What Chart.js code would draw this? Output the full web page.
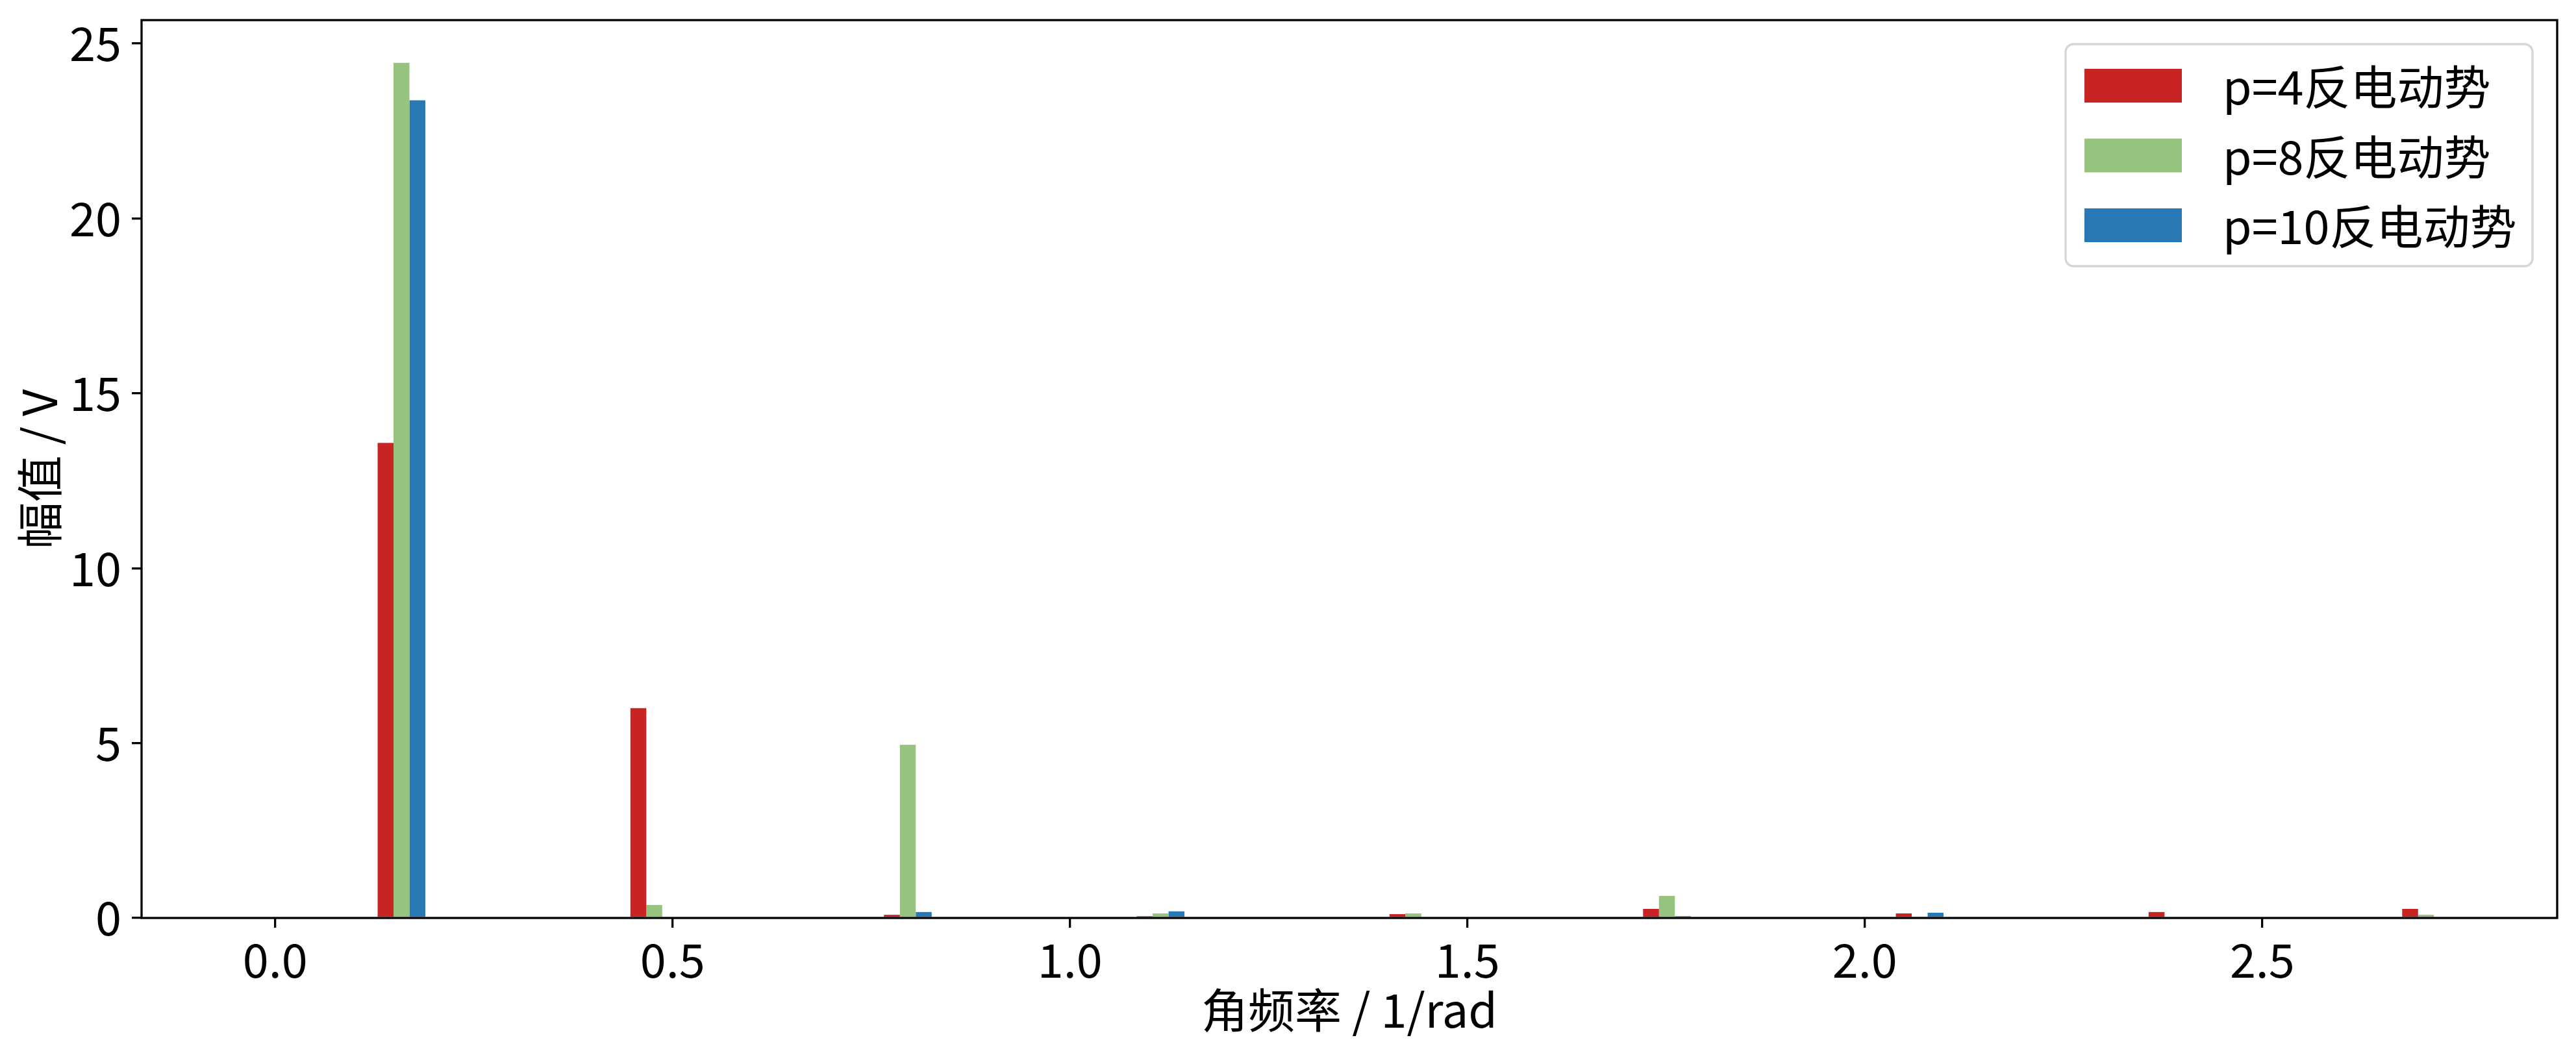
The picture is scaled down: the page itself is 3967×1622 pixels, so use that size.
<!DOCTYPE html>
<html>
<head>
<meta charset="utf-8">
<script src="https://cdn.jsdelivr.net/npm/chart.js@4/dist/chart.umd.min.js"></script>
<style>
html, body { margin: 0; padding: 0; background: #ffffff; }
#wrap { width: 3967px; height: 1622px; }
</style>
</head>
<body>
<div id="wrap"><canvas id="c" width="3967" height="1622"></canvas></div>
<script>
// ---- data ----
const freqs = [0.159, 0.477, 0.796, 1.114, 1.432, 1.751, 2.069, 2.387, 2.706];
const seriesNames = ['p=4反电动势', 'p=8反电动势', 'p=10反电动势'];
const p4Values  = [13.58, 6.00, 0.09, 0.05, 0.11, 0.26, 0.13, 0.17, 0.26];
const p8Values  = [24.45, 0.37, 4.95, 0.13, 0.13, 0.63, 0.04, 0.00, 0.09];
const p10Values = [23.38, 0.00, 0.17, 0.19, 0.00, 0.05, 0.15, 0.00, 0.00];
const xTicks = [0.0, 0.5, 1.0, 1.5, 2.0, 2.5];
const yTicks = [0, 5, 10, 15, 20, 25];
const xTitle = '角频率 / 1/rad';
const yTitle = '幅值 / V';

// ---- styling ----
const colors = ['#c82423', '#96c37d', '#2878b5'];
const FONT = '"Noto Sans CJK SC", "Noto Sans", sans-serif';
const FS = 72;
const barWidthUnits = 0.02;      // bar width in data units
const spacingUnits = freqs[1] - freqs[0];

const makeData = vals => freqs.map((f, i) => ({ x: f, y: vals[i] }));

const spinePlugin = {
  id: 'spines',
  afterDatasetsDraw(chart) {
    const { ctx, chartArea: a } = chart;
    ctx.save();
    ctx.strokeStyle = '#000';
    ctx.lineWidth = 3.3;
    ctx.strokeRect(a.left, a.top, a.right - a.left, a.bottom - a.top);
    ctx.restore();
  }
};

function roundRect(ctx, x, y, w, h, r) {
  ctx.beginPath();
  ctx.moveTo(x + r, y);
  ctx.lineTo(x + w - r, y);
  ctx.arcTo(x + w, y, x + w, y + r, r);
  ctx.lineTo(x + w, y + h - r);
  ctx.arcTo(x + w, y + h, x + w - r, y + h, r);
  ctx.lineTo(x + r, y + h);
  ctx.arcTo(x, y + h, x, y + h - r, r);
  ctx.lineTo(x, y + r);
  ctx.arcTo(x, y, x + r, y, r);
  ctx.closePath();
}

const legendPlugin = {
  id: 'mplLegend',
  afterDraw(chart) {
    const { ctx, chartArea: a } = chart;
    const w = 719, h = 342;
    const bx = a.right - 38 - w, by = a.top + 37;
    ctx.save();
    roundRect(ctx, bx, by, w, h, 12);
    ctx.fillStyle = 'rgba(255,255,255,0.8)';
    ctx.fill();
    ctx.strokeStyle = '#d6d6d6';
    ctx.lineWidth = 3.3;
    ctx.stroke();
    ctx.font = FS + 'px ' + FONT;
    ctx.textBaseline = 'middle';
    ctx.textAlign = 'left';
    chart.data.datasets.forEach((ds, i) => {
      const sy = by + 38 + i * 107.5;
      ctx.fillStyle = ds.backgroundColor;
      ctx.fillRect(bx + 29, sy, 150, 52);
      ctx.fillStyle = '#000';
      ctx.fillText(ds.label, bx + 242, sy + 26 + 2);
    });
    ctx.restore();
  }
};

new Chart(document.getElementById('c'), {
  type: 'bar',
  data: {
    datasets: [
      { label: seriesNames[0], data: makeData(p4Values),  backgroundColor: colors[0] },
      { label: seriesNames[1], data: makeData(p8Values),  backgroundColor: colors[1] },
      { label: seriesNames[2], data: makeData(p10Values), backgroundColor: colors[2] }
    ]
  },
  options: {
    responsive: false,
    devicePixelRatio: 1,
    animation: false,
    events: [],
    layout: { padding: { left: 0, top: 31, right: 29, bottom: 0 } },
    datasets: {
      bar: {
        barPercentage: 1.0,
        categoryPercentage: (3 * barWidthUnits) / spacingUnits,
        borderWidth: 0
      }
    },
    plugins: {
      legend: { display: false },
      tooltip: { enabled: false }
    },
    scales: {
      x: {
        type: 'linear',
        min: -0.168,
        max: 2.871,
        offset: false,
        grid: { display: true, offset: false, drawOnChartArea: false, drawTicks: true,
                tickLength: 15, tickWidth: 3.3, tickColor: '#000', lineWidth: 3.3, color: '#000' },
        border: { display: false },
        afterBuildTicks: s => { s.ticks = xTicks.map(v => ({ value: v })); },
        afterFit: s => { s.height = 1622 - 1414; s.paddingLeft = 0; s.paddingRight = 0; },
        ticks: {
          autoSkip: false, maxRotation: 0, minRotation: 0, includeBounds: false,
          padding: 6, color: '#000',
          font: { family: FONT, size: FS },
          callback: v => Number(v).toFixed(1)
        },
        title: {
          display: true, text: xTitle, color: '#000',
          font: { family: FONT, size: FS }, padding: { top: 0, bottom: 23 }
        }
      },
      y: {
        type: 'linear',
        min: 0,
        max: 25.67,
        grid: { display: true, drawOnChartArea: false, drawTicks: true,
                tickLength: 15, tickWidth: 3.3, tickColor: '#000', lineWidth: 3.3, color: '#000' },
        border: { display: false },
        afterBuildTicks: s => { s.ticks = yTicks.map(v => ({ value: v })); },
        afterFit: s => { s.width = 218; s.paddingTop = 0; s.paddingBottom = 0; },
        ticks: {
          autoSkip: false, includeBounds: false, padding: 16, color: '#000',
          font: { family: FONT, size: FS },
          callback: v => String(v)
        },
        title: {
          display: true, text: yTitle, color: '#000',
          font: { family: FONT, size: FS }, padding: { top: 17, bottom: 0 }
        }
      }
    }
  },
  plugins: [spinePlugin, legendPlugin]
});
</script>
</body>
</html>
